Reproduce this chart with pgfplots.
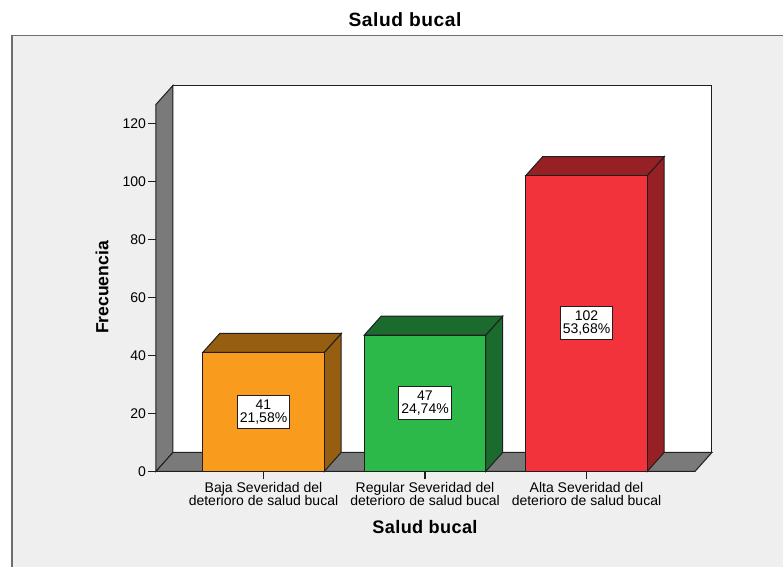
\documentclass[border=0pt]{standalone}
\usepackage{fontspec}
\setmainfont{Liberation Sans}
\usepackage{pgfplots}
\pgfplotsset{compat=1.18}

\definecolor{panel}{HTML}{EFEFEF}
\definecolor{frameline}{HTML}{6E6E6E}
\definecolor{wall}{HTML}{7A7A7A}
\definecolor{edge}{HTML}{1F1F1F}
\definecolor{orangefront}{HTML}{F99B1C}
\definecolor{orangeside}{HTML}{965E10}
\definecolor{greenfront}{HTML}{2DB84A}
\definecolor{greenside}{HTML}{1C6B2E}
\definecolor{redfront}{HTML}{F2333B}
\definecolor{redside}{HTML}{962023}

% fixed baseline distance, whatever the descenders in a line
\newcommand{\smallfont}{\fontsize{10.5pt}{9.75pt}\selectfont\lineskiplimit=-6pt\relax}

\begin{document}
\begin{tikzpicture}
  \useasboundingbox (0,0) rectangle (587.25pt,425.25pt);
  % outer panel, open at the right and bottom
  \fill[panel] (9pt,0) rectangle (587.25pt,398.9pt);
  \draw[frameline,line width=0.9pt] (9pt,0) -- (9pt,398.9pt) -- (587.25pt,398.9pt);
  \node[font=\bfseries\fontsize{14.4pt}{16pt}\selectfont\addfontfeature{LetterSpace=3}] at (303.75pt,410.3pt) {Salud bucal};

  \begin{axis}[
    at={(117pt,71.7pt)}, anchor=south west,
    scale only axis, width=404.25pt, height=275.25pt,
    clip=false,
    xmin=-0.66563, xmax=2.67183, ymin=0, ymax=126.55,
    axis lines=left,
    axis line style={draw=none},
    tick style={edge,line width=0.8pt},
    major tick length=6pt,
    tick align=outside,
    xtick={0,1,2},
    xticklabels={Baja Severidad del\\deterioro de salud bucal,
                 Regular Severidad del\\deterioro de salud bucal,
                 Alta Severidad del\\deterioro de salud bucal},
    xticklabel style={align=center,font=\smallfont,yshift=1pt},
    ytick={0,20,...,120},
    yticklabel style={font=\smallfont,xshift=2pt},
    /pgf/number format/assume math mode=true,
    xlabel={Salud bucal},
    ylabel={Frecuencia},
    x label style={at={(axis cs:1,-19.3)},anchor=center,font=\bfseries\fontsize{13.6pt}{15pt}\selectfont\addfontfeature{LetterSpace=2}},
    y label style={at={(axis cs:-1,63.4)},anchor=center,font=\bfseries\fontsize{13.2pt}{15pt}\selectfont},
    every axis plot/.append style={mark=none,line width=0.75pt,draw=edge,forget plot},
  ]
    % chart box: back wall, left wall and floor
    \addplot[fill=white] coordinates {(-0.56037,6.55)(2.77709,6.55)(2.77709,133.1)(-0.56037,133.1)} -- cycle;
    \addplot[fill=wall] coordinates {(-0.66563,0)(-0.56037,6.55)(-0.56037,133.1)(-0.66563,126.55)} -- cycle;
    \addplot[fill=wall] coordinates {(-0.66563,0)(2.67183,0)(2.77709,6.55)(-0.56037,6.55)} -- cycle;

    % Baja: 41
    \addplot[fill=orangeside] coordinates {(0.37616,0)(0.48142,6.55)(0.48142,47.55)(0.37616,41)} -- cycle;
    \addplot[fill=orangeside] coordinates {(-0.37616,41)(-0.2709,47.55)(0.48142,47.55)(0.37616,41)} -- cycle;
    \addplot[ybar,bar width=91.125pt,bar shift=0pt,fill=orangefront] coordinates {(0,41)};

    % Regular: 47
    \addplot[fill=greenside] coordinates {(1.37616,0)(1.48142,6.55)(1.48142,53.55)(1.37616,47)} -- cycle;
    \addplot[fill=greenside] coordinates {(0.62384,47)(0.7291,53.55)(1.48142,53.55)(1.37616,47)} -- cycle;
    \addplot[ybar,bar width=91.125pt,bar shift=0pt,fill=greenfront] coordinates {(1,47)};

    % Alta: 102
    \addplot[fill=redside] coordinates {(2.37616,0)(2.48142,6.55)(2.48142,108.55)(2.37616,102)} -- cycle;
    \addplot[fill=redside] coordinates {(1.62384,102)(1.7291,108.55)(2.48142,108.55)(2.37616,102)} -- cycle;
    \addplot[ybar,bar width=91.125pt,bar shift=0pt,fill=redfront] coordinates {(2,102)};

    % count and share, centred in each bar
    \tikzset{valuebox/.style={draw=edge,fill=white,line width=0.75pt,align=center,
      font=\smallfont,minimum width=39.5pt,minimum height=24.75pt,inner sep=0pt}}
    \node[valuebox] at (axis cs:0,20.5) {41\\21,58\%};
    \node[valuebox] at (axis cs:1,23.5) {47\\24,74\%};
    \node[valuebox] at (axis cs:2,51) {102\\53,68\%};
  \end{axis}
\end{tikzpicture}
\end{document}
